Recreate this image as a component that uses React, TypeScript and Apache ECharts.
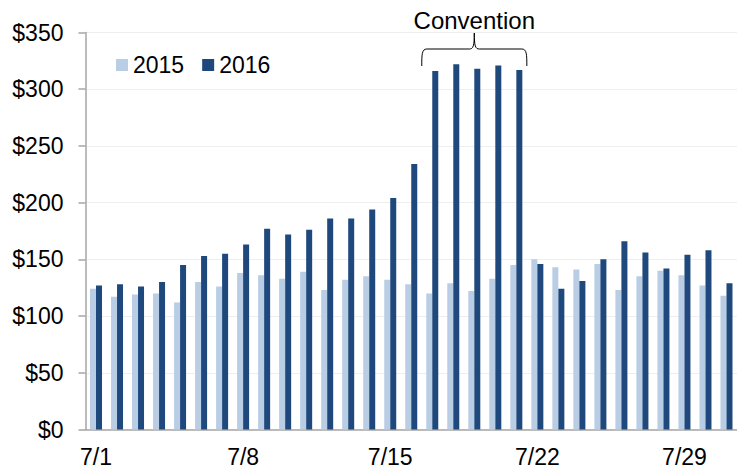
import React, { useEffect, useRef } from "react";
import * as echarts from "echarts";

// Daily values for July, two years side by side
const days = [
  "7/1", "7/2", "7/3", "7/4", "7/5", "7/6", "7/7", "7/8", "7/9", "7/10",
  "7/11", "7/12", "7/13", "7/14", "7/15", "7/16", "7/17", "7/18", "7/19", "7/20",
  "7/21", "7/22", "7/23", "7/24", "7/25", "7/26", "7/27", "7/28", "7/29", "7/30", "7/31",
];

const values2015 = [
  124, 117, 119, 120, 112, 130, 126, 138, 136, 133,
  139, 123, 132, 135, 132, 128, 120, 129, 122, 133,
  145, 150, 143, 141, 146, 123, 135, 140, 136, 127, 118,
];

const values2016 = [
  127, 128, 126, 130, 145, 153, 155, 163, 177, 172,
  176, 186, 186, 194, 204, 234, 316, 322, 318, 321,
  317, 146, 124, 131, 150, 166, 156, 142, 154, 158, 129,
];

const seriesNames = ["2015", "2016"];
const seriesColors = ["#b9cde5", "#1f497d"];

// Days spanned by the bracket annotation
const conventionLabel = "Convention";
const conventionFirst = "7/17";
const conventionLast = "7/21";

const FONT = "'Liberation Sans', Arial, Helvetica, sans-serif";

export default function App() {
  const ref = useRef<HTMLDivElement>(null);

  useEffect(() => {
    if (!ref.current) return;
    const chart = echarts.init(ref.current, null, { renderer: "svg" });

    chart.setOption({
      animation: false,
      backgroundColor: "#ffffff",
      textStyle: { fontFamily: FONT },
      grid: { left: 85.5, right: -4.5, top: 32.5, bottom: 40.5, containLabel: false },
      legend: {
        data: seriesNames,
        left: 116,
        top: 53.5,
        padding: 0,
        icon: "rect",
        itemWidth: 12,
        itemHeight: 12,
        itemGap: 18,
        textStyle: { fontSize: 23, color: "#000", fontFamily: FONT },
      },
      xAxis: {
        type: "category",
        data: days,
        axisLine: { lineStyle: { color: "#a6a6a6", width: 1.5 } },
        axisTick: { show: false },
        axisLabel: {
          interval: 6,
          fontSize: 23,
          color: "#000",
          margin: 16,
          fontFamily: FONT,
        },
        splitLine: { show: false },
      },
      yAxis: {
        type: "value",
        min: 0,
        max: 350,
        interval: 50,
        axisLine: { show: true, lineStyle: { color: "#a6a6a6", width: 1.5 } },
        axisTick: { show: true, length: 7, lineStyle: { color: "#a6a6a6", width: 1.5 } },
        axisLabel: {
          fontSize: 23,
          color: "#000",
          margin: 22,
          fontFamily: FONT,
          formatter: (v: number) => "$" + v,
        },
        splitLine: { show: true, lineStyle: { color: "#eeeeee", width: 1 } },
      },
      series: [
        {
          name: seriesNames[0],
          type: "bar",
          data: values2015,
          barWidth: 6,
          barGap: "0%",
          itemStyle: { color: seriesColors[0] },
        },
        {
          name: seriesNames[1],
          type: "bar",
          data: values2016,
          barWidth: 6,
          barGap: "0%",
          itemStyle: { color: seriesColors[1] },
        },
      ],
    });

    // Curly bracket over the convention days, placed from the category axis
    const cFirst = chart.convertToPixel({ xAxisIndex: 0 }, conventionFirst) as number;
    const cNext = chart.convertToPixel({ xAxisIndex: 0 }, days[days.indexOf(conventionFirst) + 1]) as number;
    const cLast = chart.convertToPixel({ xAxisIndex: 0 }, conventionLast) as number;
    const half = (cNext - cFirst) / 2;
    const L = cFirst - half;
    const R = cLast + half;
    const M = (L + R) / 2;
    const yEnd = 66;
    const yBar = 49;
    const yTip = 33;
    const d =
      `M${L},${yEnd} C${L},${yBar + 6} ${L},${yBar} ${L + 5},${yBar} ` +
      `L${M - 5},${yBar} C${M - 1},${yBar} ${M},${yBar - 3} ${M},${yTip} ` +
      `C${M},${yBar - 3} ${M + 1},${yBar} ${M + 5},${yBar} ` +
      `L${R - 5},${yBar} C${R},${yBar} ${R},${yBar + 6} ${R},${yEnd}`;
    echarts.graphic.registerShape("brace", echarts.graphic.extendPath(d, {}));

    chart.setOption({
      graphic: [
        {
          type: "brace",
          x: 0,
          y: 0,
          silent: true,
          style: { stroke: "#000", fill: "none", lineWidth: 1 },
        },
        {
          type: "text",
          x: M,
          y: 20,
          silent: true,
          style: {
            text: conventionLabel,
            fontSize: 24,
            fontFamily: FONT,
            fill: "#000",
            textAlign: "center",
            textVerticalAlign: "middle",
          },
        },
      ],
    });

    return () => chart.dispose();
  }, []);

  return (
    <div
      ref={ref}
      style={{ position: "absolute", left: 0, top: 0, width: 737, height: 470 }}
    />
  );
}
